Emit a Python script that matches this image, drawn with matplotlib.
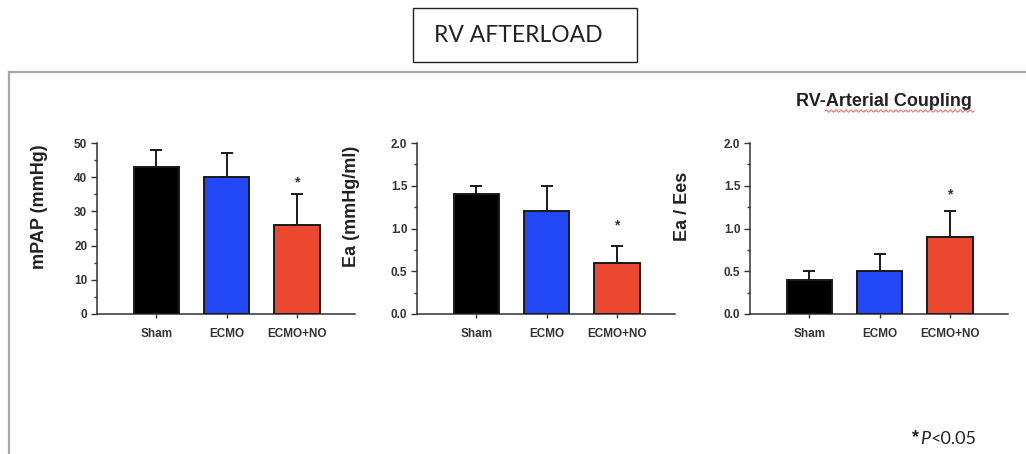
import matplotlib
matplotlib.use("Agg")
import matplotlib.pyplot as plt
from matplotlib.patches import Rectangle
from matplotlib.lines import Line2D
from matplotlib.ticker import MultipleLocator
import numpy as np

categories = ["Sham", "ECMO", "ECMO+NO"]
colors = ["#000000", "#2247f5", "#ec4830"]

mpap_mean = [43, 40, 26]
mpap_err = [5, 7, 9]
ea_mean = [1.4, 1.2, 0.6]
ea_err = [0.1, 0.3, 0.2]
ratio_mean = [0.4, 0.5, 0.9]
ratio_err = [0.1, 0.2, 0.3]

panels = [
    dict(mean=mpap_mean, err=mpap_err, ylabel="mPAP (mmHg)", ylim=(0, 50), major=10, minor=5,
         fmt="{:.0f}", star=(2, 38.5), left=97, labx=48),
    dict(mean=ea_mean, err=ea_err, ylabel="Ea (mmHg/ml)", ylim=(0, 2.0), major=0.5, minor=0.25,
         fmt="{:.1f}", star=(2, 1.03), left=417, labx=360),
    dict(mean=ratio_mean, err=ratio_err, ylabel="Ea / Ees", ylim=(0, 2.0), major=0.5, minor=0.25,
         fmt="{:.1f}", star=(2, 1.40), left=750, labx=691),
]

W, H = 1026, 454
fig = plt.figure(figsize=(W / 100, H / 100), dpi=100)
plt.rcParams['font.family'] = ['Liberation Sans', 'DejaVu Sans']

def fx(px):
    return px / W

def fy(py):
    return 1 - py / H

# outer frame
fig.add_artist(Line2D([fx(9), 1.0], [fy(72), fy(72)], color="#a6a6a6", lw=1.6))
fig.add_artist(Line2D([fx(9), fx(9)], [fy(72), 0.0], color="#a6a6a6", lw=1.6))

# title box
fig.add_artist(Rectangle((fx(413), fy(62)), fx(637) - fx(413), fy(8) - fy(62),
                         fill=False, edgecolor="#222222", lw=1.0))
fig.text(fx(518), fy(36), "RV AFTERLOAD", ha="center", va="center", fontsize=16.5,
         family=["Lato", "DejaVu Sans"], color="#222222")

x = np.arange(len(categories))
axw = 258
for p in panels:
    left = p["left"]
    ax = fig.add_axes([fx(left), fy(314), axw / W, fy(143) - fy(314)])
    ax.bar(x, p["mean"], width=0.65, color=colors, edgecolor="#1a1a1a", linewidth=1.4, zorder=3)
    ax.errorbar(x, p["mean"], yerr=[np.zeros(3), p["err"]], fmt="none", ecolor="#1a1a1a",
                elinewidth=1.4, capsize=4.5, capthick=1.4, zorder=2)
    ax.set_xlim(-0.845, 2.83)
    ax.set_ylim(*p["ylim"])
    for s in ["top", "right"]:
        ax.spines[s].set_visible(False)
    for s in ["left", "bottom"]:
        ax.spines[s].set_color("#333333")
        ax.spines[s].set_linewidth(1.1)
    ax.yaxis.set_major_locator(MultipleLocator(p["major"]))
    ax.yaxis.set_minor_locator(MultipleLocator(p["minor"]))
    ticks = np.arange(p["ylim"][0], p["ylim"][1] + p["major"] / 2, p["major"])
    ax.set_yticks(ticks)
    ax.set_yticklabels([p["fmt"].format(t) for t in ticks], fontsize=8.5, fontweight="bold",
                       color="#333333")
    ax.tick_params(axis="y", which="major", length=4, width=1, color="#333333", pad=3)
    ax.tick_params(axis="y", which="minor", length=2.5, width=1, color="#333333")
    ax.set_xticks(x)
    ax.set_xticklabels(categories, fontsize=8.5, fontweight="bold", color="#333333")
    ax.tick_params(axis="x", length=3, width=1, color="#333333", pad=7)
    ax.text(p["star"][0], p["star"][1], "*", ha="center", va="center", fontsize=10,
            fontweight="bold", color="#333333")
    ax.set_ylabel(p["ylabel"], fontsize=13, fontweight="bold", color="#222222")
    ax.yaxis.set_label_coords((p["labx"] - left) / axw, 0.63)

# panel 3 title
fig.text(fx(884), fy(102), "RV-Arterial Coupling", ha="center", va="center", fontsize=13,
         fontweight="bold", color="#222222")
# spell-check wavy underline
xs = np.linspace(fx(825), fx(974), 120)
ys = fy(111) + 0.003 * np.sin(np.linspace(0, 60 * np.pi, 120))
fig.add_artist(Line2D(xs, ys, color="#e05050", lw=0.6))

# footnote
fig.text(fx(919), fy(438), "*", ha="right", va="center", fontsize=13, fontweight="bold",
         color="#222222")
fig.text(fx(920.5), fy(439), "P", ha="left", va="center", fontsize=13, style="italic",
         family=["Lato", "DejaVu Sans"], color="#222222")
fig.text(fx(931), fy(439), "<0.05", ha="left", va="center", fontsize=13,
         family=["Lato", "DejaVu Sans"], color="#222222")

fig.savefig("out.png", dpi=100)
